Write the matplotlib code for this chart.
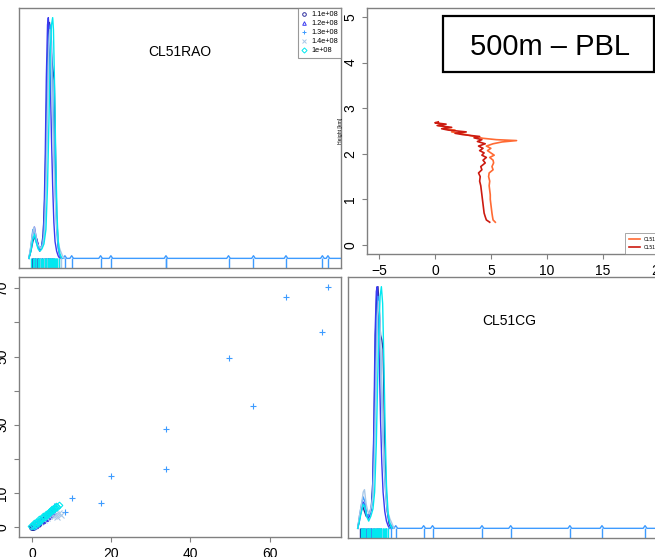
import matplotlib
matplotlib.use("Agg")
import matplotlib.pyplot as plt
from matplotlib.lines import Line2D
from matplotlib.patches import Rectangle

plt.rcParams['font.family'] = ['Liberation Sans', 'DejaVu Sans']

# ---------------- data ----------------
groups = ["1.1e+08", "1.2e+08", "1.3e+08", "1.4e+08", "1e+08"]
group_colors = ["#2e2e9e", "#3a3af0", "#3d9bff", "#a8c8e8", "#00e8f0"]
group_markers = ["o", "^", "+", "x", "D"]

# paired observations (CL51RAO, CL51CG) per group
rao_g1 = [0.0, 0.3, 0.7, 1.2, 1.6, 2.1, 2.6, 3.0, 3.5, 3.9, 4.3, 4.6, 5.0]
cg_g1 = [0.1, 0.0, 0.5, 0.9, 1.0, 1.7, 1.9, 2.5, 2.9, 3.3, 3.6, 4.0, 4.2]
rao_g2 = [0.2, 0.8, 1.5, 2.4, 3.3, 3.8, 4.1, 4.4, 4.7, 5.3]
cg_g2 = [0.4, 0.6, 1.4, 2.0, 2.6, 3.2, 3.5, 3.9, 4.3, 4.8]
rao_g3 = [0.5, 1.9, 3.6, 4.5, 5.6, 8.3, 10.0, 17.3, 19.9, 33.8, 33.8, 49.6, 55.9, 64.1, 73.3, 74.7]
cg_g3 = [0.9, 2.2, 3.7, 4.4, 6.1, 4.4, 8.4, 7.2, 15.0, 17.1, 28.8, 49.6, 35.6, 67.4, 57.2, 70.4]
rao_g4 = [0.4, 1.1, 2.0, 2.9, 3.7, 4.3, 4.9, 5.5, 6.0, 6.4, 6.9, 7.3]
cg_g4 = [0.3, 0.8, 1.5, 2.1, 2.8, 3.3, 3.6, 3.4, 3.9, 3.1, 4.2, 3.6]
rao_g5 = [-0.2, 0.15, 0.4, 0.55, 0.9, 1.05, 1.4, 1.7, 1.85, 2.3, 2.6, 2.75, 3.2, 3.45, 3.6,
          3.95, 4.2, 4.35, 4.6, 4.75, 4.9, 5.1, 5.25, 5.45, 5.6, 5.85, 6.1, 6.4, 6.7]
cg_g5 = [0.2, 0.6, 0.3, 1.1, 0.9, 1.6, 1.2, 1.9, 2.3, 2.1, 2.7, 3.2, 3.0, 3.6, 3.9,
         3.7, 4.4, 4.1, 4.6, 5.0, 4.7, 5.3, 5.0, 5.6, 5.4, 5.9, 6.2, 6.0, 6.6]

# scaled density curves of CL51RAO per group
rao_dens_x = [
    [-0.8, -0.3, 0.2, 0.7, 1.2, 1.6, 2.0, 2.4, 2.8, 3.2, 3.5, 3.8, 4.1, 4.4, 4.7, 5.0, 5.3, 5.6, 5.9, 6.2, 6.6, 7.0, 7.4],
    [-0.8, -0.3, 0.2, 0.6, 1.0, 1.5, 1.9, 2.3, 2.7, 3.0, 3.3, 3.6, 3.9, 4.1, 4.3, 4.6, 4.9, 5.2, 5.5, 5.8, 6.2, 6.6, 7.0],
    [-0.8, -0.3, 0.2, 0.6, 1.0, 1.4, 1.9, 2.4, 2.9, 3.3, 3.7, 4.0, 4.3, 4.6, 4.9, 5.2, 5.5, 5.8, 6.2, 6.6, 7.0, 7.5],
    [-0.8, -0.4, 0.0, 0.5, 0.9, 1.3, 1.8, 2.3, 2.8, 3.2, 3.6, 3.9, 4.2, 4.5, 4.8, 5.1, 5.4, 5.7, 6.0, 6.4, 6.8, 7.2, 7.7, 8.2],
    [-0.8, -0.3, 0.2, 0.6, 1.0, 1.5, 2.0, 2.5, 3.0, 3.5, 3.9, 4.3, 4.6, 4.9, 5.2, 5.4, 5.7, 6.0, 6.3, 6.6, 7.0, 7.5],
]
rao_dens_y = [
    [0.0, 0.03, 0.07, 0.09, 0.08, 0.05, 0.04, 0.05, 0.10, 0.25, 0.48, 0.75, 0.93, 0.98, 0.90, 0.82, 0.78, 0.74, 0.45, 0.18, 0.05, 0.01, 0.0],
    [0.0, 0.04, 0.11, 0.13, 0.09, 0.06, 0.03, 0.04, 0.07, 0.16, 0.40, 0.75, 0.97, 1.0, 0.95, 0.75, 0.50, 0.30, 0.15, 0.07, 0.03, 0.01, 0.0],
    [0.0, 0.05, 0.12, 0.10, 0.07, 0.05, 0.04, 0.05, 0.09, 0.20, 0.50, 0.80, 0.93, 0.97, 0.90, 0.70, 0.50, 0.30, 0.12, 0.04, 0.01, 0.0],
    [0.0, 0.04, 0.09, 0.13, 0.10, 0.06, 0.05, 0.04, 0.06, 0.12, 0.35, 0.60, 0.85, 0.95, 0.88, 0.65, 0.45, 0.30, 0.18, 0.10, 0.05, 0.03, 0.01, 0.0],
    [0.0, 0.03, 0.08, 0.10, 0.07, 0.04, 0.03, 0.04, 0.06, 0.12, 0.30, 0.60, 0.85, 0.97, 1.0, 0.95, 0.70, 0.40, 0.18, 0.07, 0.02, 0.0],
]
# scaled density curves of CL51CG per group
cg_dens_x = [
    [-0.6, -0.2, 0.2, 0.6, 1.0, 1.4, 1.8, 2.2, 2.6, 3.0, 3.3, 3.6, 3.9, 4.2, 4.5, 4.8, 5.1, 5.4, 5.7, 6.0, 6.4, 6.8, 7.2],
    [-0.6, -0.2, 0.2, 0.6, 1.0, 1.4, 1.8, 2.2, 2.6, 2.9, 3.2, 3.5, 3.8, 4.0, 4.2, 4.5, 4.8, 5.1, 5.4, 5.8, 6.2, 6.6, 7.0],
    [-0.6, -0.2, 0.3, 0.7, 1.1, 1.5, 1.9, 2.3, 2.8, 3.2, 3.6, 3.9, 4.2, 4.5, 4.8, 5.1, 5.4, 5.8, 6.2, 6.6, 7.0, 7.5, 8.0],
    [-0.6, -0.2, 0.3, 0.7, 1.0, 1.4, 1.8, 2.2, 2.6, 3.0, 3.4, 3.8, 4.1, 4.4, 4.7, 5.0, 5.3, 5.7, 6.1, 6.5, 7.0, 7.5, 8.0],
    [-0.6, -0.2, 0.3, 0.7, 1.1, 1.5, 2.0, 2.5, 3.0, 3.4, 3.8, 4.1, 4.4, 4.7, 5.0, 5.3, 5.6, 5.9, 6.2, 6.6, 7.0, 7.5],
]
cg_dens_y = [
    [0.0, 0.04, 0.07, 0.09, 0.07, 0.05, 0.05, 0.06, 0.08, 0.20, 0.45, 0.80, 0.97, 1.0, 0.90, 0.80, 0.78, 0.74, 0.45, 0.20, 0.07, 0.02, 0.0],
    [0.0, 0.03, 0.08, 0.11, 0.10, 0.06, 0.04, 0.05, 0.08, 0.15, 0.40, 0.80, 0.98, 1.0, 0.92, 0.70, 0.45, 0.27, 0.15, 0.07, 0.03, 0.01, 0.0],
    [0.0, 0.05, 0.10, 0.13, 0.11, 0.06, 0.05, 0.07, 0.10, 0.25, 0.55, 0.85, 0.96, 0.90, 0.75, 0.55, 0.38, 0.20, 0.10, 0.05, 0.02, 0.01, 0.0],
    [0.0, 0.05, 0.10, 0.15, 0.16, 0.10, 0.07, 0.06, 0.09, 0.13, 0.30, 0.65, 0.88, 0.94, 0.85, 0.62, 0.42, 0.25, 0.13, 0.07, 0.04, 0.02, 0.0],
    [0.0, 0.03, 0.07, 0.10, 0.09, 0.05, 0.03, 0.05, 0.08, 0.15, 0.35, 0.60, 0.82, 0.96, 1.0, 0.93, 0.68, 0.40, 0.18, 0.06, 0.02, 0.0],
]
# isolated observations of the 1.3e+08 group shown as small bumps on the baseline
rao_tail = [8.3, 10.0, 17.3, 19.9, 33.8, 49.6, 55.9, 64.1, 73.3, 74.7]
cg_tail = [7.2, 8.4, 15.0, 17.1, 28.8, 35.6, 49.6, 57.2, 67.4, 70.4]

# vertical profiles (km) for the PBL panel
prof_rao_h = [0.50, 0.55, 0.62, 0.70, 0.80, 0.90, 1.00, 1.10, 1.20, 1.30, 1.40, 1.50, 1.58, 1.65,
              1.72, 1.80, 1.86, 1.92, 1.97, 2.02, 2.07, 2.12, 2.17, 2.22, 2.26, 2.29, 2.31, 2.34,
              2.38, 2.42, 2.45, 2.48, 2.52, 2.55, 2.58, 2.62, 2.65, 2.68]
prof_rao_x = [5.4, 5.2, 5.15, 5.1, 5.05, 5.0, 4.95, 4.95, 4.9, 4.85, 4.9, 4.8, 4.85, 5.2,
              5.1, 5.25, 5.2, 4.9, 5.3, 5.0, 4.7, 5.0, 4.6, 5.2, 6.0, 7.3, 5.5, 4.3,
              3.5, 2.8, 2.2, 1.5, 1.8, 0.8, 1.2, 0.3, 0.6, 0.1]
prof_cg_h = [0.50, 0.55, 0.62, 0.70, 0.80, 0.90, 1.00, 1.10, 1.20, 1.30, 1.40, 1.50, 1.58, 1.65,
             1.72, 1.80, 1.86, 1.92, 1.97, 2.02, 2.07, 2.12, 2.17, 2.22, 2.27, 2.31, 2.35, 2.38,
             2.42, 2.45, 2.48, 2.52, 2.55, 2.58, 2.62, 2.65, 2.68, 2.70]
prof_cg_x = [4.9, 4.6, 4.5, 4.4, 4.35, 4.3, 4.25, 4.2, 4.15, 4.1, 4.0, 4.05, 3.9, 4.2,
             4.1, 4.5, 4.3, 4.6, 4.2, 4.4, 4.0, 4.3, 3.9, 4.5, 3.8, 4.2, 3.5, 4.0,
             2.5, 1.8, 2.8, 1.2, 0.6, 1.5, 0.2, 1.0, 0.0, 0.3]
profile_labels = ["CL51RAO", "CL51CG"]
profile_colors = ["#ff6a33", "#cc1a10"]

rao_samples = [rao_g1, rao_g2, rao_g3, rao_g4, rao_g5]
cg_samples = [cg_g1, cg_g2, cg_g3, cg_g4, cg_g5]

# ---------------- layout ----------------
W, H = 655, 557
fig = plt.figure(figsize=(W / 100, H / 100), dpi=100)
fig.patch.set_facecolor("white")


def px_rect(x0, y0, x1, y1):
    return [x0 / W, 1 - y1 / H, (x1 - x0) / W, (y1 - y0) / H]


GRAY = "#808080"


def style(ax):
    for s in ax.spines.values():
        s.set_color(GRAY)
        s.set_linewidth(1.0)
    ax.tick_params(colors=GRAY, labelcolor="black", length=3.5, width=0.8,
                   labelsize=10, direction="out")


ax_tl = fig.add_axes(px_rect(19, 8, 341, 268))
ax_tr = fig.add_axes(px_rect(367, 8, 681, 254))
ax_bl = fig.add_axes(px_rect(19, 277, 341, 537))
ax_br = fig.add_axes(px_rect(348, 277, 670, 538))
for a in (ax_tl, ax_tr, ax_bl, ax_br):
    style(a)

RAO_LIM = (-3.3, 78.0)
CG_LIM = (-2.9, 73.3)


def with_tail(xs, ys, tail, xmax):
    px, py = list(xs), list(ys)
    for v in tail:
        px += [v - 0.45, v, v + 0.45]
        py += [0.0, 0.011, 0.0]
    px.append(xmax)
    py.append(0.0)
    return px, py


def diag_panel(ax, dens_x, dens_y, samples, tail, lim, title):
    for i in range(len(groups)):
        xs, ys = dens_x[i], dens_y[i]
        if i == 2:
            xs, ys = with_tail(xs, ys, tail, lim[1] + 5)
        ax.plot(xs, ys, color=group_colors[i], lw=1.0)
    for i in range(len(groups)):
        ax.vlines(samples[i], -0.04, 0.0, colors=group_colors[i], lw=1.0)
    ax.set_xlim(*lim)
    ax.set_ylim(-0.04, 1.04)
    ax.set_xticks([])
    ax.set_yticks([])
    ax.text(0.5, 0.83, title, transform=ax.transAxes, ha="center", va="center",
            fontsize=10, color="black")


diag_panel(ax_tl, rao_dens_x, rao_dens_y, rao_samples, rao_tail, RAO_LIM, "CL51RAO")
diag_panel(ax_br, cg_dens_x, cg_dens_y, cg_samples, cg_tail, CG_LIM, "CL51CG")

handles = []
for i, g in enumerate(groups):
    filled = group_markers[i] in ("+", "x")
    handles.append(Line2D([], [], ls="none", marker=group_markers[i], color=group_colors[i],
                          markerfacecolor=group_colors[i] if filled else "none",
                          markersize=2.6, markeredgewidth=0.7, label=g))
leg = ax_tl.legend(handles=handles, loc="upper right", fontsize=5.3, frameon=True,
                   fancybox=False, borderaxespad=0, handlelength=0.8, handletextpad=0.5,
                   labelspacing=0.25, borderpad=0.45)
leg.get_frame().set_edgecolor(GRAY)
leg.get_frame().set_linewidth(0.8)

# scatter of CL51RAO vs CL51CG
for i in range(len(groups)):
    m = group_markers[i]
    filled = m in ("+", "x")
    ax_bl.plot(rao_samples[i], cg_samples[i], ls="none", marker=m,
               markersize=4.2 if m != "D" else 3.4,
               markeredgewidth=0.8, color=group_colors[i],
               markerfacecolor=group_colors[i] if filled else "none")
ax_bl.set_xlim(*RAO_LIM)
ax_bl.set_ylim(*CG_LIM)
ax_bl.set_xticks([0, 20, 40, 60])
ax_bl.set_yticks([0, 10, 20, 30, 40, 50, 60, 70])
ax_bl.set_yticklabels(["0", "10", "", "30", "", "50", "", "70"])
ax_bl.tick_params(axis="y", labelrotation=90)
for lab in ax_bl.get_yticklabels():
    lab.set_va("center")

# PBL profiles
for xs, hs, c, lab in zip([prof_rao_x, prof_cg_x], [prof_rao_h, prof_cg_h],
                          profile_colors, profile_labels):
    ax_tr.plot(xs, hs, color=c, lw=1.2, label=lab)
ax_tr.set_xlim(-6.07, 22.0)
ax_tr.set_ylim(-0.197, 5.197)
ax_tr.set_xticks([-5, 0, 5, 10, 15, 20])
ax_tr.set_yticks([0, 1, 2, 3, 4, 5])
ax_tr.tick_params(axis="y", labelrotation=90)
for lab in ax_tr.get_yticklabels():
    lab.set_va("center")
ax_tr.set_ylabel("Height [km]", fontsize=3.7, labelpad=0.5)
leg2 = ax_tr.legend(loc="lower left", bbox_to_anchor=(0.822, 0.0), fontsize=3.6,
                    frameon=True, fancybox=False, borderaxespad=0, handlelength=2.2,
                    labelspacing=0.6, borderpad=0.8)
leg2.get_frame().set_edgecolor(GRAY)
leg2.get_frame().set_linewidth(0.6)

# annotation box
fig.patches.append(Rectangle((443 / W, 1 - 72 / H), (654 - 443) / W, (72 - 16) / H,
                             transform=fig.transFigure, fill=False, edgecolor="black",
                             linewidth=1.6, zorder=10))
fig.text(549.5 / W, 1 - 55 / H, "500m \u2013 PBL", ha="center", va="baseline",
         fontsize=21, color="black", zorder=11)

fig.savefig("out.png", dpi=100)
